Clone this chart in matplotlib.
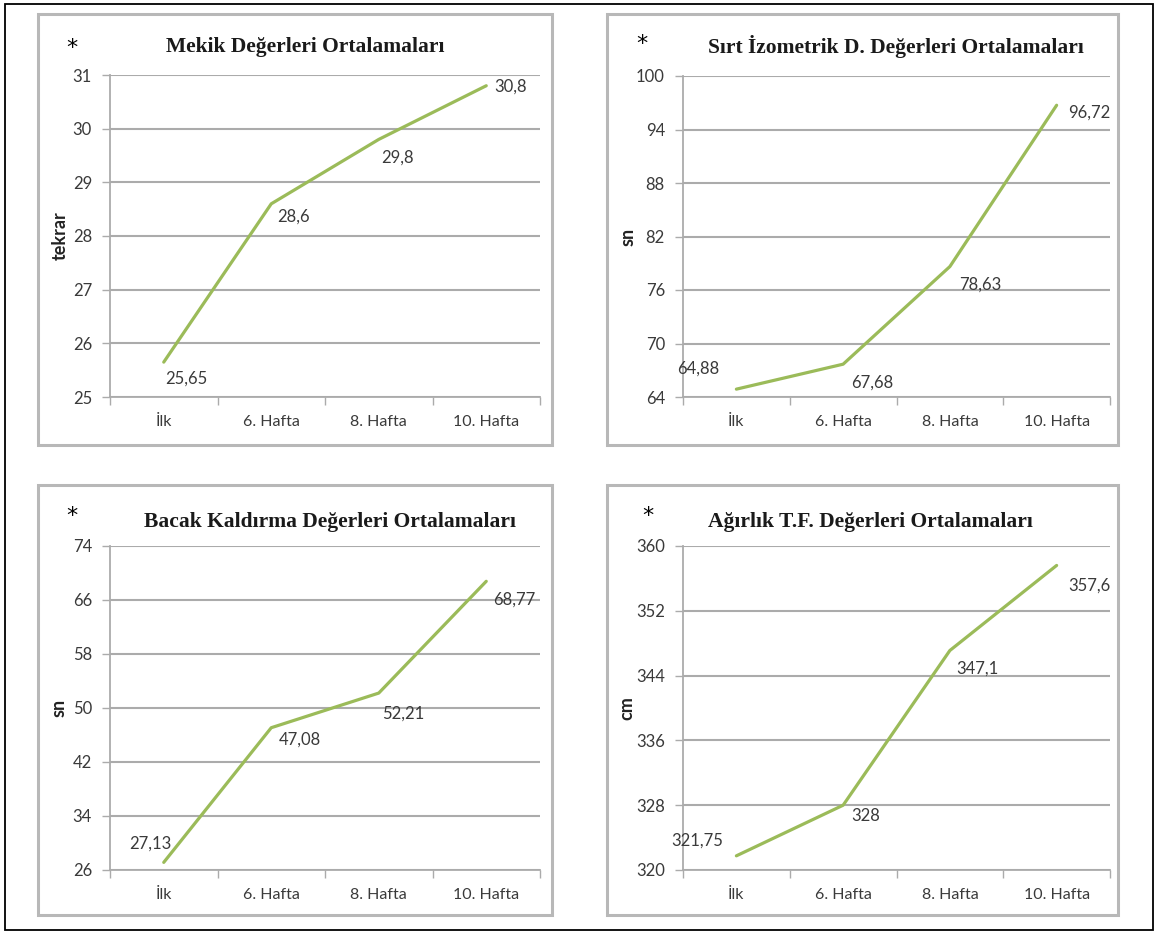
import matplotlib
matplotlib.use("Agg")
import matplotlib.pyplot as plt
from matplotlib.patches import Rectangle

W, H = 1155, 932

categories = ["İlk", "6. Hafta", "8. Hafta", "10. Hafta"]

mekik = [25.65, 28.6, 29.8, 30.8]
sirt = [64.88, 67.68, 78.63, 96.72]
bacak = [27.13, 47.08, 52.21, 68.77]
agirlik = [321.75, 328, 347.1, 357.6]

mekik_ticks = [25, 26, 27, 28, 29, 30, 31]
sirt_ticks = [64, 70, 76, 82, 88, 94, 100]
bacak_ticks = [26, 34, 42, 50, 58, 66, 74]
agirlik_ticks = [320, 328, 336, 344, 352, 360]

titles = ["Mekik Değerleri Ortalamaları",
          "Sırt İzometrik D. Değerleri Ortalamaları",
          "Bacak Kaldırma Değerleri Ortalamaları",
          "Ağırlık T.F. Değerleri Ortalamaları"]
ylabels = ["tekrar", "sn", "sn", "cm"]

LINE = "#9BBB59"
GRID = "#ABABAB"
TXT = "#3a3a3a"
TICKFONT = ["Lato", "DejaVu Sans"]

fig = plt.figure(figsize=(W / 100, H / 100), dpi=100)
fig.patch.set_facecolor("white")


def px_rect(x0, y0, x1, y1):
    return [x0 / W, 1 - y1 / H, (x1 - x0) / W, (y1 - y0) / H]


# outer frame
fig.add_artist(Rectangle((5 / W, 1 - 930 / H), 1148 / W, 926 / H,
                         transform=fig.transFigure, fill=False,
                         edgecolor="black", lw=1.3))

panels = [
    # box, axes area, title center, asterisk, ylabel x, data, ticks, label offsets (px)
    dict(box=(38, 14, 552, 445), ax=(110, 75, 540, 397), title=(305, 47),
         star=(72, 48), ylab=60, vals=mekik, ticks=mekik_ticks,
         offs=[(23, -17), (22, -13), (19, -18), (24, -1)]),
    dict(box=(607, 14, 1118, 445), ax=(683, 76, 1110, 397), title=(896, 47),
         star=(642, 44), ylab=628, vals=sirt, ticks=sirt_ticks,
         offs=[(-38, 21), (29, -18), (30, -18), (33, -7)]),
    dict(box=(38, 485, 552, 915), ax=(110, 546, 540, 870), title=(330, 522),
         star=(72, 516), ylab=59, vals=bacak, ticks=bacak_ticks,
         offs=[(-13, 19), (29, -12), (24, -21), (28, -18)]),
    dict(box=(607, 485, 1118, 915), ax=(683, 546, 1110, 870), title=(870, 522),
         star=(648, 516), ylab=627, vals=agirlik, ticks=agirlik_ticks,
         offs=[(-39, 15), (23, -11), (28, -18), (33, -20)]),
]

for i, p in enumerate(panels):
    bx0, by0, bx1, by1 = p["box"]
    fig.add_artist(Rectangle((bx0 / W, 1 - by1 / H), (bx1 - bx0) / W, (by1 - by0) / H,
                             transform=fig.transFigure, fill=False,
                             edgecolor="#B8B8B8", lw=2.2))

    ax = fig.add_axes(px_rect(*p["ax"]))
    ax.set_facecolor("none")
    x = list(range(len(categories)))
    ax.plot(x, p["vals"], color=LINE, lw=2.3, solid_joinstyle="round",
            solid_capstyle="round", zorder=3)

    ticks = p["ticks"]
    ax.set_ylim(ticks[0], ticks[-1])
    ax.set_xlim(-0.5, len(categories) - 0.5)
    ax.set_yticks(ticks)
    ax.set_yticklabels([str(t) for t in ticks], fontfamily=TICKFONT,
                       fontsize=12, color=TXT)
    ax.yaxis.grid(True, color=GRID, lw=1.5)
    ax.set_axisbelow(True)

    ax.set_xticks([k - 0.5 for k in range(len(categories) + 1)])
    ax.set_xticklabels([])
    ax.set_xticks(x, minor=True)
    ax.set_xticklabels(categories, minor=True, fontfamily=TICKFONT,
                       fontsize=11.5, color=TXT)
    ax.tick_params(axis="x", which="major", length=6, width=1, color=GRID,
                   direction="out")
    ax.tick_params(axis="x", which="minor", length=0, pad=13)
    ax.tick_params(axis="y", length=6, width=1, color=GRID, pad=7)

    for side in ("top", "right"):
        ax.spines[side].set_visible(False)
    for side in ("left", "bottom"):
        ax.spines[side].set_color(GRID)
        ax.spines[side].set_linewidth(1.3)

    for xi, v, (dx, dy) in zip(x, p["vals"], p["offs"]):
        lbl = f"{v:g}".replace(".", ",")
        ax.annotate(lbl, (xi, v), xytext=(dx, dy), textcoords="offset pixels",
                    ha="center", va="center", fontfamily=TICKFONT,
                    fontsize=12, color=TXT)

    tx, ty = p["title"]
    fig.text(tx / W, 1 - ty / H, titles[i], ha="center", va="center",
             fontfamily="Liberation Serif", fontweight="bold", fontsize=15.5,
             color="#1a1a1a")
    sx, sy = p["star"]
    fig.text(sx / W, 1 - sy / H, "*", ha="center", va="center",
             fontfamily="DejaVu Sans", fontsize=16, color="black")

    ay0, ay1 = p["ax"][1], p["ax"][3]
    fig.text(p["ylab"] / W, 1 - ((ay0 + ay1) / 2) / H, ylabels[i],
             rotation=90, ha="center", va="center", fontfamily=TICKFONT,
             fontweight="bold", fontsize=13, color="#222222")

fig.savefig("out.png", dpi=100)
